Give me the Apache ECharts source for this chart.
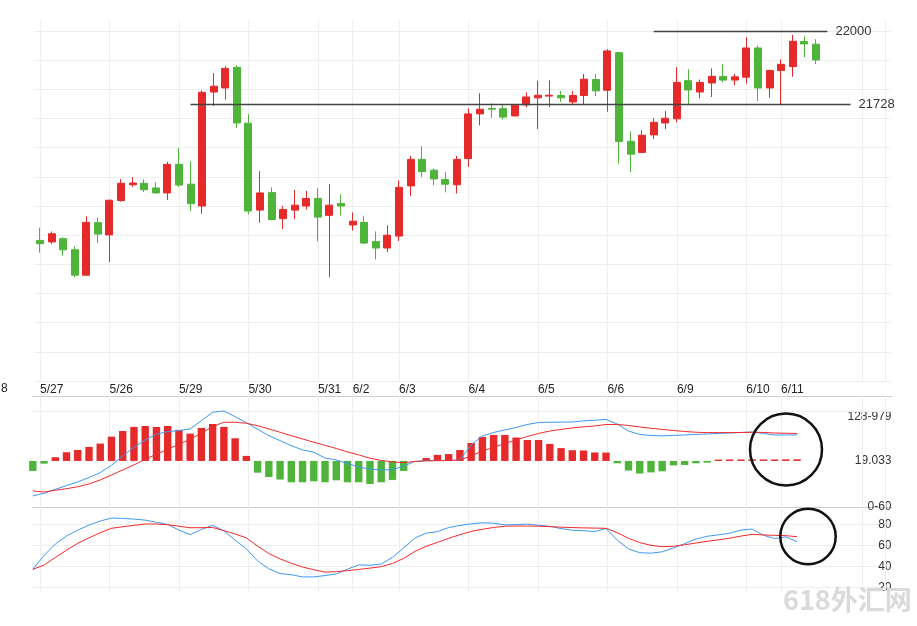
<!DOCTYPE html>
<html>
<head>
<meta charset="utf-8">
<script src="https://cdn.jsdelivr.net/npm/echarts@6/dist/echarts.min.js"></script>
<style>
html,body{margin:0;padding:0;background:#fff;}
#main{width:917px;height:626px;}
</style>
</head>
<body>
<div id="main"></div>
<script>
// 日期标签和它们所在的K线序号
var dateLabels = ['5/27','5/26','5/29','5/30','5/31','6/2','6/3','6/4','6/5','6/6','6/9','6/10','6/11'];
var dateIndex = [0,6,12,18,24,27,31,37,43,49,55,61,64];
var extraGridIndex = [71,73];
var slotCount = 74;

// K线 开/收/低/高
var openPrices = [21282,21277,21288,21250,21163,21343,21301,21419,21473,21478,21462,21445,21543,21475,21400,21791,21805,21876,21684,21386,
  21446,21357,21386,21400,21426,21368,21409,21335,21344,21278,21256,21297,21469,21560,21523,21491,21473,21563,21716,21735,
  21734,21709,21747,21771,21777,21779,21757,21779,21834,21797,21926,21622,21584,21644,21685,21699,21830,21791,21822,21844,
  21832,21842,21942,21805,21865,21878,21964,21955];
var closePrices = [21271,21305,21250,21163,21344,21304,21420,21478,21479,21456,21445,21543,21472,21408,21790,21811,21872,21685,21383,21445,
  21354,21388,21403,21426,21362,21403,21400,21348,21273,21256,21300,21464,21560,21518,21493,21475,21560,21716,21732,21732,
  21705,21746,21774,21780,21780,21771,21779,21835,21795,21932,21621,21578,21643,21687,21701,21824,21798,21824,21845,21832,
  21843,21942,21805,21865,21886,21965,21956,21901];
var lowPrices = [21240,21270,21230,21156,21162,21273,21208,21415,21465,21448,21443,21421,21465,21383,21373,21743,21765,21668,21371,21343,
  21353,21321,21355,21388,21279,21156,21368,21316,21271,21217,21242,21280,21434,21500,21471,21447,21443,21534,21677,21703,
  21696,21708,21739,21664,21740,21757,21750,21749,21777,21723,21545,21517,21582,21630,21664,21687,21748,21770,21774,21824,
  21814,21820,21760,21771,21749,21843,21911,21887];
var highPrices = [21326,21313,21293,21262,21365,21361,21422,21492,21499,21491,21481,21552,21599,21554,21797,21856,21880,21883,21715,21519,
  21464,21400,21455,21452,21461,21476,21440,21378,21365,21313,21334,21488,21572,21605,21529,21517,21572,21735,21787,21752,
  21749,21749,21790,21830,21831,21794,21794,21853,21853,21938,21929,21656,21660,21701,21726,21876,21869,21834,21872,21886,
  21853,21979,21951,21868,21903,21987,21982,21972];

// 水平参考线
var refLevels = [22000, 21748];
var refTexts = ['22000', '21728'];
var refFrom = [53, 13];
var refTo = [68, 70];

// MACD: 柱、DIF、DEA
var macdHist = [-8.1,-2.2,3.0,7.1,8.9,11.4,14.1,19.7,24.3,27.6,28.4,27.6,28.4,25.2,22.2,26.8,30.0,27.6,18.4,4.1,
  -9.5,-13.0,-15.1,-17.3,-17.3,-16.5,-17.3,-15.7,-17.3,-17.3,-18.7,-17.3,-15.4,-8.1,0,2.4,4.9,5.6,8.9,14.6,
  19.5,21.1,21.1,19.0,17.0,17.0,13.8,10.4,8.7,8.5,6.9,6.8,-1.9,-7.8,-10.2,-9.3,-8.4,-3.6,-3.3,-1.9,
  -1.4,1.1,1.2,1.2,1.3,1.2,1.2,1.3,1.3];
var macdDif = [-28.4,-26.2,-23.0,-20.0,-17.0,-13.5,-9.5,-3.5,4.1,11.1,17.0,21.7,23.8,24.6,26.0,32.7,39.5,40.6,35.9,31.1,
  25.7,20.5,16.5,12.4,8.9,7.1,2.4,0.8,-2.0,-4.9,-6.7,-7.3,-7.1,-4.1,-0.4,0.4,0.4,0.4,0.8,13.0,
  20.3,23.1,25.2,27.2,29.6,31.2,31.4,31.5,31.6,32.5,33.0,33.7,30.0,24.3,21.5,20.7,20.3,20.7,21.1,21.5,
  21.9,22.3,22.7,23.1,23.5,22.3,21.1,21.1,21.1];
var macdDea = [-24.3,-25.2,-23.8,-22.5,-20.9,-18.7,-15.4,-11.4,-7.3,-3.2,1.4,5.4,9.5,13.5,17.6,22.5,27.8,31.4,31.4,30.6,
  28.6,26.0,23.3,20.5,17.8,15.2,12.7,10.1,7.3,4.9,2.2,0.4,-0.8,-1.4,-0.4,0,0.2,0.4,0.8,4.1,
  8.1,11.0,14.2,17.0,19.9,22.3,24.3,25.6,26.8,27.7,28.4,29.6,29.6,28.8,27.6,26.5,25.6,24.7,23.9,23.3,
  23.0,23.0,23.0,23.1,23.3,23.1,22.7,22.5,22.3];

// KD 两条线
var kdjK = [37.1,50.3,61.2,68.9,74.4,79.3,83.1,86.0,85.6,85.0,84.0,81.9,79.9,74.5,70.2,75.2,79.0,73.9,64.9,56.7,
  45.1,37.7,33.1,32.0,29.9,29.9,31.2,32.7,37.3,41.4,41.0,42.2,48.6,57.5,67.0,71.6,73.0,76.9,78.9,80.4,
  81.5,81.0,79.5,79.8,80.2,79.1,78.1,75.9,74.4,73.9,73.1,76.0,65.0,56.5,53.0,52.5,53.8,57.5,61.6,65.9,
  68.6,70.0,71.5,74.5,75.5,69.6,66.5,68.0,63.4];
var kdjD = [37.1,41.2,48.4,55.4,61.9,67.1,72.0,76.2,77.7,79.0,80.3,80.3,79.6,78.2,76.7,76.8,77.0,74.0,70.8,67.1,
  59.2,52.2,47.1,42.9,39.3,36.7,34.5,34.9,35.9,37.0,38.3,39.7,42.7,47.5,54.2,59.1,62.8,66.7,70.1,73.2,
  75.3,77.0,78.2,78.4,78.4,78.2,77.8,77.3,76.9,76.6,76.4,76.2,72.0,66.7,62.6,60.0,58.7,59.1,60.5,62.2,
  63.8,65.2,66.8,68.8,70.4,69.9,69.5,69.2,68.2];

var UP = '#e62a2a', DOWN = '#4fb43a', GRID = '#eeeeee', SEP = '#cccccc';
var FONT = '"Liberation Sans", Arial, sans-serif';
var NARROW = '"Liberation Sans Narrow", "Arial Narrow", "Liberation Sans", sans-serif';

var categories = [];
for (var i = 0; i < slotCount; i++) {
    var k = dateIndex.indexOf(i);
    categories.push(k >= 0 ? dateLabels[k] : '');
}
var candleData = openPrices.map(function (o, i) {
    return [o, closePrices[i], lowPrices[i], highPrices[i]];
});
function pairs(arr) {
    return arr.map(function (v, j) { return [j, v]; });
}
var vLines = dateIndex.concat(extraGridIndex).map(function (i) { return {xAxis: i}; });
var refData = refLevels.map(function (v, n) {
    return [{coord: [refFrom[n], v], label: {formatter: refTexts[n]}}, {coord: [refTo[n], v]}];
});

var myChart = echarts.init(document.getElementById('main'));

var option = {
    animation: false,
    textStyle: {fontFamily: FONT},
    grid: [
        {left: 34.2, right: 25.9, top: 20, bottom: 245},
        {left: 32.8, right: 25.5, top: 396, bottom: 115.75},
        {left: 32.8, right: 25.5, top: 507, bottom: 17.7},
        {left: 34.2, right: 25.9, top: 396, bottom: 34}
    ],
    xAxis: [
        {
            gridIndex: 0, type: 'category', data: categories, boundaryGap: true,
            axisLine: {show: false}, axisTick: {show: false}, splitLine: {show: false},
            axisLabel: {interval: 0, align: 'left', margin: 3, fontSize: 12, color: '#222', fontFamily: NARROW}
        },
        {
            gridIndex: 1, type: 'value', min: 0, max: 76.4, position: 'top',
            axisLine: {onZero: false, lineStyle: {color: SEP}}, axisTick: {show: false},
            axisLabel: {show: false}, splitLine: {show: false}
        },
        {
            gridIndex: 2, type: 'value', min: 0, max: 76.4, position: 'top',
            axisLine: {onZero: false, lineStyle: {color: SEP}}, axisTick: {show: false},
            axisLabel: {show: false}, splitLine: {show: false}
        },
        {gridIndex: 3, type: 'category', data: categories, boundaryGap: true, show: false}
    ],
    yAxis: [
        {
            gridIndex: 0, type: 'value', min: 20800, max: 22038, interval: 100,
            axisLine: {show: false}, axisTick: {show: false}, axisLabel: {show: false},
            splitLine: {show: true, showMaxLine: false, lineStyle: {color: GRID}}
        },
        {
            gridIndex: 1, type: 'value', min: -40, max: 52.7, interval: 40, position: 'right',
            axisLine: {show: false}, axisTick: {show: false}, splitLine: {show: false},
            axisLabel: {
                inside: true, margin: 0, fontSize: 12, color: '#333', fontFamily: NARROW,
                formatter: function (v) {
                    if (v === 0) return '19.033';
                    if (v === 40) return '{lo|128-979}';
                    return '';
                },
                rich: {lo: {fontSize: 12, color: '#333', fontFamily: NARROW, padding: [10, 0, 0, 0]}}
            }
        },
        {
            gridIndex: 2, type: 'value', min: 0, max: 96.5, interval: 20, position: 'right',
            axisLine: {show: false}, axisTick: {show: false},
            splitLine: {show: true, showMinLine: false, lineStyle: {color: GRID}},
            axisLabel: {
                inside: true, margin: 0, fontSize: 12, color: '#333', fontFamily: NARROW,
                formatter: function (v) {
                    if (v === 0) return '';
                    if (v > 90) return '0-60';
                    return String(v);
                }
            }
        },
        {gridIndex: 3, type: 'value', min: 0, max: 1, show: false}
    ],
    series: [
        {
            // 主图竖向网格
            type: 'line', xAxisIndex: 0, yAxisIndex: 0, data: [], z: 1, silent: true,
            markLine: {
                z: 1, symbol: 'none', silent: true, animation: false,
                label: {show: false},
                lineStyle: {color: GRID, type: 'solid', width: 1},
                data: vLines
            }
        },
        {
            // 副图竖向网格
            type: 'line', xAxisIndex: 3, yAxisIndex: 3, data: [], z: 1, silent: true,
            markLine: {
                z: 1, symbol: 'none', silent: true, animation: false,
                label: {show: false},
                lineStyle: {color: GRID, type: 'solid', width: 1},
                data: vLines
            }
        },
        {
            type: 'candlestick', xAxisIndex: 0, yAxisIndex: 0,
            data: candleData, barWidth: 7.5,
            itemStyle: {color: UP, color0: DOWN, borderColor: UP, borderColor0: DOWN, borderWidth: 1},
            markLine: {
                symbol: 'none', silent: true, animation: false,
                lineStyle: {color: '#444', type: 'solid', width: 1.3},
                label: {show: true, position: 'end', distance: 8, color: '#333', fontSize: 13},
                data: refData
            }
        },
        {
            type: 'bar', xAxisIndex: 1, yAxisIndex: 1, data: pairs(macdHist), barWidth: 7.4,
            itemStyle: {
                color: function (p) { return p.value[1] >= 0 ? UP : DOWN; }
            },
            markLine: {
                z: 1, symbol: 'none', silent: true, animation: false, label: {show: false},
                lineStyle: {color: GRID, type: 'solid', width: 1},
                data: [{yAxis: 40}]
            }
        },
        {
            type: 'line', xAxisIndex: 1, yAxisIndex: 1, data: pairs(macdDif),
            symbol: 'none', lineStyle: {color: '#3d98f2', width: 1}
        },
        {
            type: 'line', xAxisIndex: 1, yAxisIndex: 1, data: pairs(macdDea),
            symbol: 'none', lineStyle: {color: '#f22a2a', width: 1}
        },
        {
            type: 'line', xAxisIndex: 2, yAxisIndex: 2, data: pairs(kdjK),
            symbol: 'none', lineStyle: {color: '#3d98f2', width: 1}
        },
        {
            type: 'line', xAxisIndex: 2, yAxisIndex: 2, data: pairs(kdjD),
            symbol: 'none', lineStyle: {color: '#f22a2a', width: 1}
        }
    ],
    graphic: [
        {
            type: 'text', left: 1, top: 383, z: 10,
            style: {text: '8', fill: '#222', font: '12px ' + NARROW}
        },
        {
            type: 'circle', shape: {cx: 786, cy: 449.5, r: 36}, z: 20, silent: true,
            style: {fill: 'none', stroke: '#111', lineWidth: 2.5}
        },
        {
            type: 'circle', shape: {cx: 808, cy: 536.5, r: 27.7}, z: 20, silent: true,
            style: {fill: 'none', stroke: '#111', lineWidth: 2.5}
        },
        {
            type: 'text', left: 783, top: 586, z: 30, silent: true,
            style: {text: '618外汇网', fill: '#dadada', font: 'bold 27px "Noto Sans CJK SC", sans-serif'}
        }
    ]
};

myChart.setOption(option);
</script>
</body>
</html>
